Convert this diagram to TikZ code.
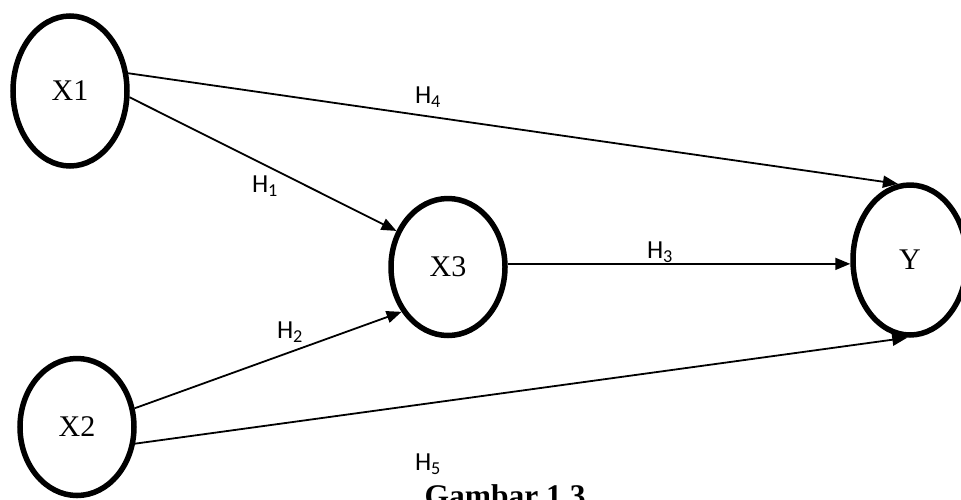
\documentclass[tikz,border=0pt]{standalone}
\usepackage{fontspec}
\setmainfont{Liberation Serif}
\newfontfamily\hlabelfont{Carlito}
\usetikzlibrary{shapes.geometric,arrows.meta}
\tikzset{
  var/.style={ellipse, draw, line width=5.5pt, minimum width=114pt, inner sep=0pt,
    font=\fontsize{30}{31}\selectfont},
  link/.style={line width=1.8pt, -{Triangle[length=15pt,width=12pt]}},
  hlab/.style={font=\hlabelfont\fontsize{26}{27}\selectfont, inner sep=0pt},
}
\begin{document}
\begin{tikzpicture}[x=1pt,y=-1pt]
\useasboundingbox (0,0) rectangle (961,499);
\node[var, minimum height=150pt] (X1) at (70,91) {X1};
\node[var, minimum height=137pt] (X3) at (448,267) {X3};
\node[var, minimum height=150pt] (Y) at (910,260) {Y};
\node[var, minimum height=137pt] (X2) at (77,427) {X2};
\draw[link] (X1.17) -- (Y.99);
\draw[link] (X1.-6) -- (X3.145);
\draw[link] (X2.18) -- (X3.224);
\draw[link] (X3.3) -- (X3.3 -| Y.west);
\draw[link] (X2.-16) -- (Y.-92);
\node[hlab] (h4) at (428,97) {H\textsubscript{4}};
\node[hlab] (h1) at (265,186) {H\textsubscript{1}};
\node[hlab] (h2) at (290,332) {H\textsubscript{2}};
\node[hlab] (h3) at (660,252) {H\textsubscript{3}};
\node[hlab] (h5) at (428,464) {H\textsubscript{5}};
\node[anchor=base, inner sep=0pt, font=\bfseries\fontsize{31.5}{32}\selectfont] (cap) at (505,506) {Gambar 1.3};
\end{tikzpicture}
\end{document}
